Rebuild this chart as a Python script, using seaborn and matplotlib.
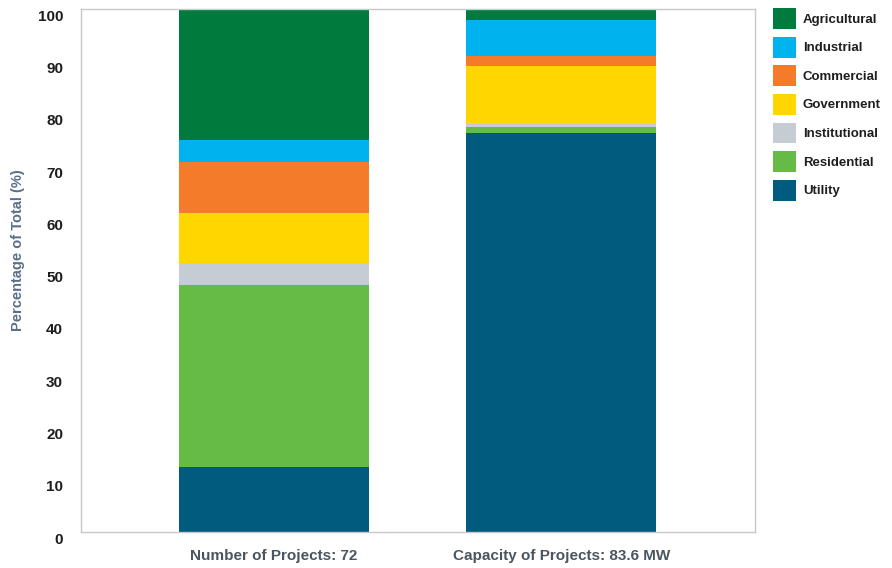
import seaborn as sns
import matplotlib.pyplot as plt
import matplotlib.transforms as mtransforms
import pandas as pd
from matplotlib.patches import Patch

bars = ["Number of Projects: 72", "Capacity of Projects: 83.6 MW"]
sectors = ["Utility", "Residential", "Institutional", "Government",
           "Commercial", "Industrial", "Agricultural"]
# share of total (%) for each bar, bottom to top
projects = [12.5, 34.7, 4.2, 9.7, 9.7, 4.2, 25.0]
capacity = [76.4, 1.0, 0.9, 10.9, 1.9, 6.9, 2.0]
colors = ["#005B7F", "#66BB46", "#C5CCD3", "#FFD600",
          "#F47B2A", "#00B2EE", "#007A3D"]

sns.set_style("white")
plt.rcParams["font.family"] = ["Liberation Sans", "DejaVu Sans"]
plt.rcParams["font.weight"] = "bold"

df = pd.DataFrame({"sector": sectors, bars[0]: projects, bars[1]: capacity})
cum = df.set_index("sector").cumsum()

fig, ax = plt.subplots(figsize=(8.92, 5.68), dpi=100)
fig.subplots_adjust(left=0.091, right=0.846, top=0.984, bottom=0.063)

# draw cumulative totals from top layer down so each stacks on the previous
for i in range(len(sectors) - 1, -1, -1):
    row = cum.iloc[i]
    sns.barplot(x=list(row.index), y=list(row.values), color=colors[i],
                width=0.66, saturation=1, ax=ax, linewidth=0)

ax.set_ylim(0, 100)
ax.set_xlim(-0.671, 1.673)
ax.set_yticks(range(0, 101, 10))
ax.tick_params(axis="y", length=0, pad=13, labelsize=11, labelcolor="#1e1e1e")
ax.tick_params(axis="x", length=0, pad=12, labelsize=11, labelcolor="#4a5560")
shift = mtransforms.ScaledTranslation(0, -6 / 100, fig.dpi_scale_trans)
for lab in ax.get_yticklabels():
    lab.set_transform(lab.get_transform() + shift)
ax.set_ylabel("Percentage of Total (%)", color="#5a7088", fontsize=10.5,
              fontweight="bold")
ax.yaxis.set_label_coords(-0.083, 0.54)
for s in ax.spines.values():
    s.set_color("#c8c8c8")
    s.set_linewidth(1)

handles = [Patch(facecolor=colors[i], edgecolor="none", label=sectors[i])
           for i in range(len(sectors) - 1, -1, -1)]
leg = fig.legend(handles=handles, loc="upper left", bbox_to_anchor=(0.861, 0.995),
                 frameon=False, fontsize=9.5, handlelength=1.75, handleheight=2.05,
                 handletextpad=0.5, labelspacing=0.59, borderaxespad=0)
for t in leg.get_texts():
    t.set_color("#1e1e1e")
    t.set_fontweight("bold")

fig.savefig("out.png", dpi=100)
